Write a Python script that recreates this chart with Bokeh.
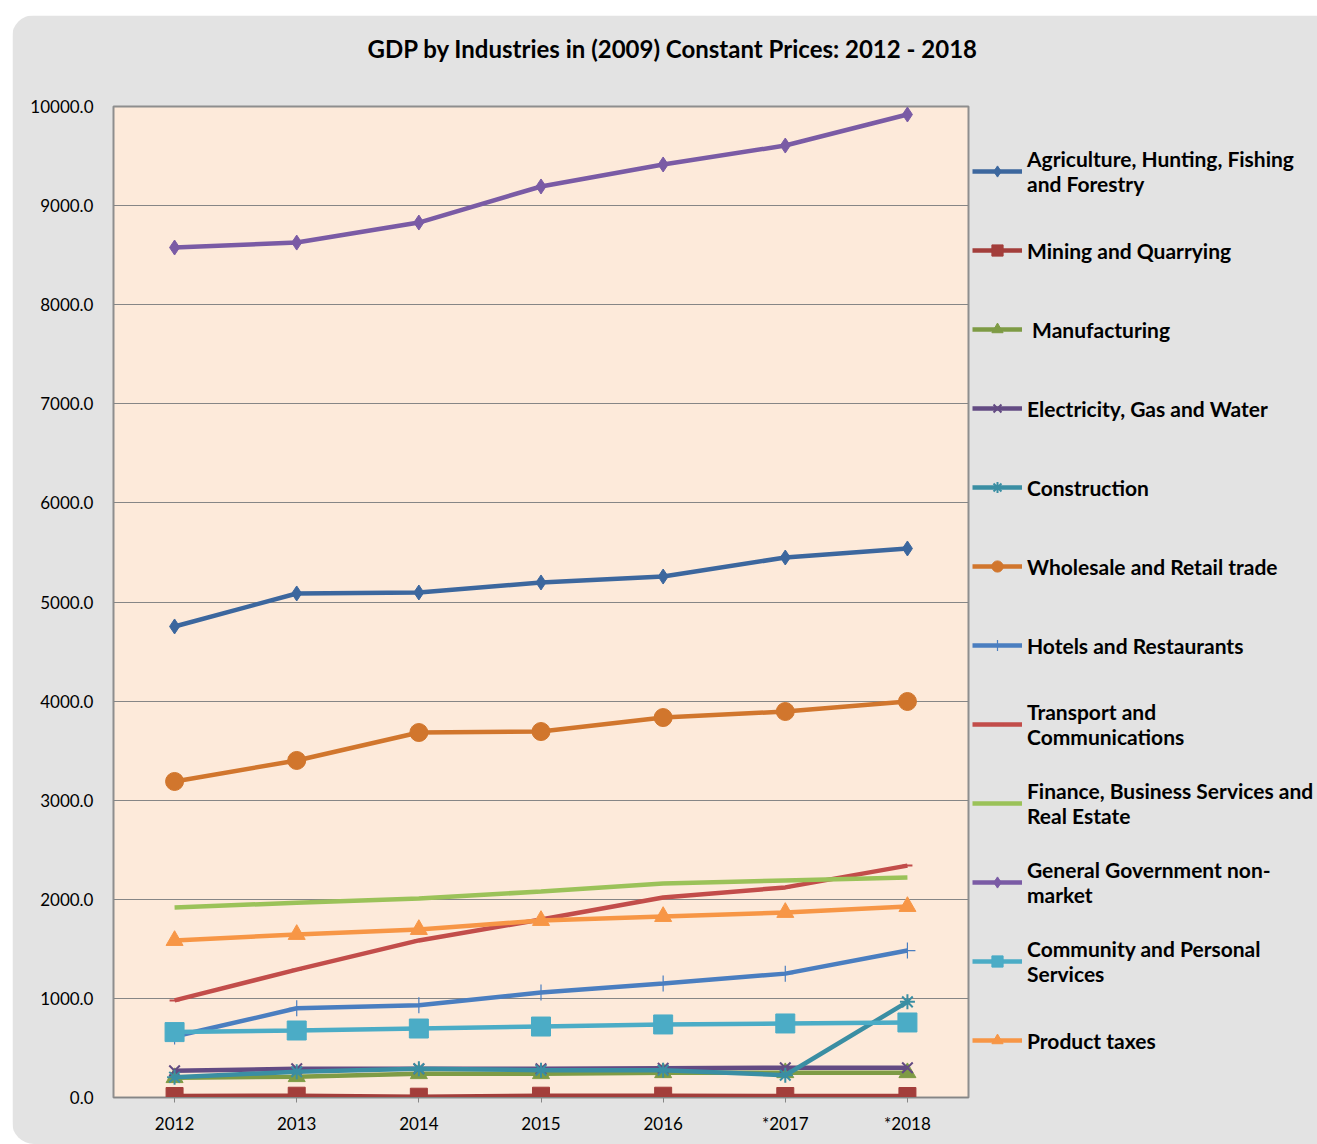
from bokeh.plotting import figure
from bokeh.models import (Legend, LegendItem, FixedTicker, NumeralTickFormatter,
                          Title, ColumnDataSource)
from bokeh.embed import file_html
from bokeh.resources import INLINE

years = ["2012", "2013", "2014", "2015", "2016", "*2017", "*2018"]

agriculture = [4753, 5086, 5096, 5197, 5257, 5449, 5540]
mining = [15, 18, 8, 18, 18, 15, 15]
manufacturing = [200, 210, 240, 240, 250, 250, 250]
electricity = [270, 290, 290, 290, 295, 300, 300]
construction = [205, 260, 290, 275, 275, 225, 965]
wholesale = [3189, 3401, 3683, 3693, 3834, 3895, 3996]
hotels = [615, 900, 930, 1060, 1150, 1250, 1483]
transport = [980, 1290, 1585, 1796, 2018, 2120, 2340]
finance = [1917, 1965, 2008, 2079, 2160, 2190, 2220]
government = [8577, 8627, 8829, 9193, 9415, 9606, 9919]
community = [660, 676, 696, 716, 737, 747, 757]
product_taxes = [1584, 1645, 1695, 1786, 1826, 1867, 1927]

labels = [
    "Agriculture, Hunting, Fishing\nand Forestry",
    "Mining and Quarrying",
    " Manufacturing",
    "Electricity, Gas and Water",
    "Construction",
    "Wholesale and Retail trade",
    "Hotels and Restaurants",
    "Transport and\nCommunications",
    "Finance, Business Services and\nReal Estate",
    "General Government non-\nmarket",
    "Community and Personal\nServices",
    "Product taxes",
]
series = [agriculture, mining, manufacturing, electricity, construction, wholesale,
          hotels, transport, finance, government, community, product_taxes]

colors = ["#3C679E", "#A33E3B", "#7E9B45", "#634B83", "#3A8EA3", "#D1762D",
          "#4A7EC0", "#C24D4A", "#9BC259", "#7A5BA5", "#4BACC6", "#F79646"]
markers = ["diamond", "square", "triangle", "x", "asterisk", "circle",
           "cross", "dash", None, "diamond", "square", "triangle"]
msizes = [15, 17, 17, 15, 15, 18, 16, 10, 0, 15, 19, 17]

FONT = "Lato"

p = figure(x_range=years, y_range=(0, 10000), frame_width=855, frame_height=991,
           output_backend="svg", toolbar_location=None,
           min_border_left=101, min_border_right=0,
           min_border_top=91, min_border_bottom=47,
           background_fill_color="#FDEADA", border_fill_color="#E3E3E3",
           margin=(15, 0, 0, 12))
p.styles = {"border-radius": "22px", "overflow": "hidden"}
p.x_range.range_padding = 0
p.outline_line_color = "#8E8E8E"
p.outline_line_width = 2

p.xgrid.grid_line_color = None
p.ygrid.grid_line_color = "#868686"
p.ygrid.grid_line_width = 1

p.yaxis.ticker = FixedTicker(ticks=list(range(0, 10001, 1000)))
p.yaxis.formatter = NumeralTickFormatter(format="0.0")
for ax in (p.xaxis, p.yaxis):
    ax.major_label_text_font = FONT
    ax.major_label_text_font_size = "17px"
    ax.major_label_text_color = "#000000"
    ax.minor_tick_line_color = None
p.yaxis.axis_line_color = None
p.yaxis.major_tick_line_color = None
p.yaxis.major_label_standoff = 14
p.xaxis.axis_line_color = "#868686"
p.xaxis.major_tick_line_color = "#868686"
p.xaxis.major_tick_in = 0
p.xaxis.major_tick_out = 5
p.xaxis.major_label_standoff = 10

items = []
for lab, vals, c, m, s in zip(labels, series, colors, markers, msizes):
    src = ColumnDataSource(dict(x=years, y=vals))
    rs = [p.line("x", "y", source=src, line_color=c, line_width=4.5)]
    if m is not None:
        if m in ("x", "asterisk", "cross", "dash"):
            r = p.scatter("x", "y", source=src, marker=m, size=s, line_color=c,
                          line_width=2 if m != "cross" else 1.2, fill_color=c)
        else:
            r = p.scatter("x", "y", source=src, marker=m, size=s, line_color=c,
                          fill_color=c, line_width=1)
        rs.append(r)
    items.append(LegendItem(label=lab, renderers=rs))

legend = Legend(items=items, location=(4, 29), orientation="vertical",
                glyph_width=50, glyph_height=28, label_height=56,
                label_standoff=5, spacing=23, padding=0, margin=0,
                border_line_color=None, background_fill_alpha=0,
                label_text_font=FONT, label_text_font_size="21px",
                label_text_font_style="bold", label_text_color="#000000",
                label_text_line_height=1.4)
p.add_layout(legend, "right")

# spacer between the frame and the title (closest to the frame)
spacer = Title(text=" ", text_font_size="10px", standoff=31,
               text_color="#E3E3E3")
p.add_layout(spacer, "above")
title = Title(text="GDP by Industries in (2009) Constant Prices: 2012 - 2018",
              align="left", offset=254, text_font=FONT, text_font_size="24px",
              text_font_style="bold", text_color="#000000", standoff=0)
p.add_layout(title, "above")

open("out.html", "w").write(file_html(p, INLINE))
